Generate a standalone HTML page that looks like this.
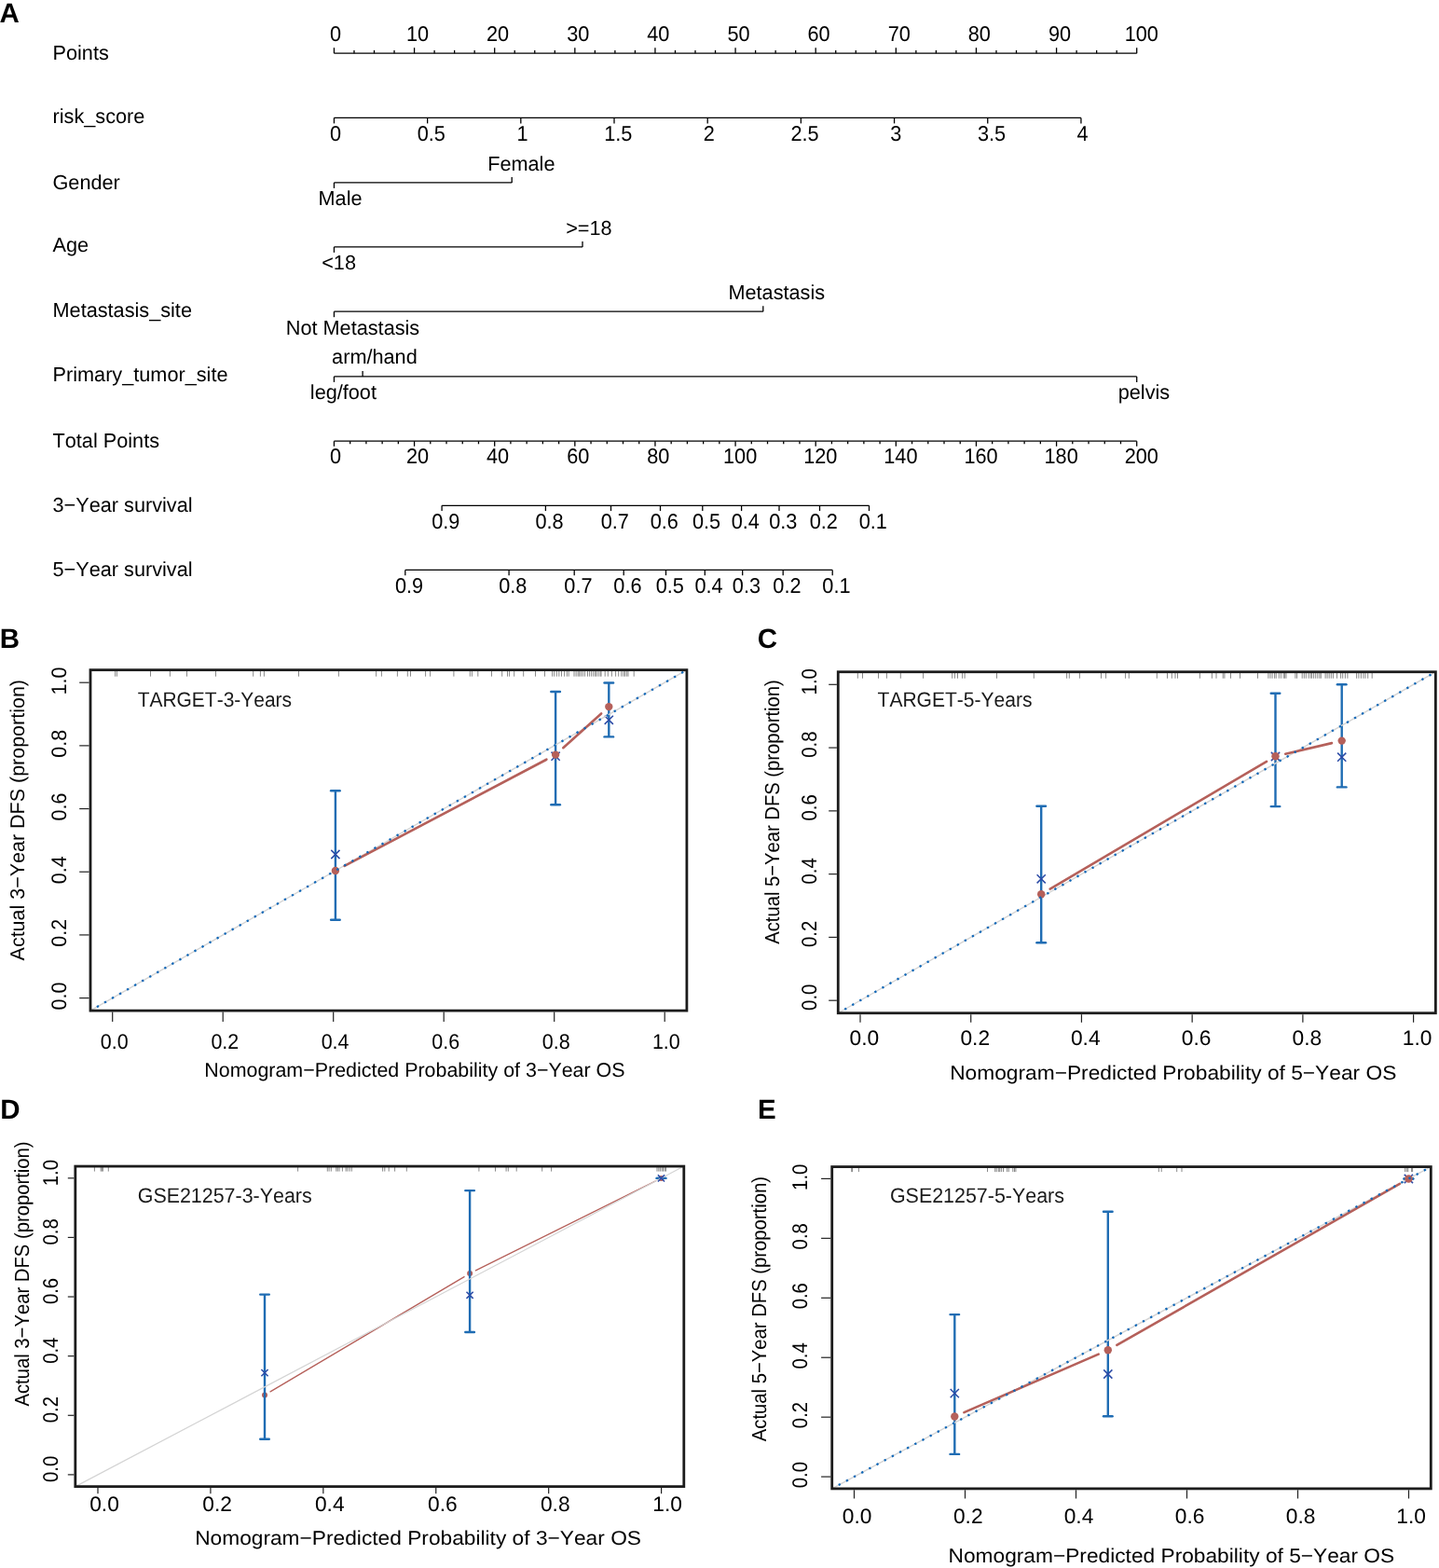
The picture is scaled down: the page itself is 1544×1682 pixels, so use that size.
<!DOCTYPE html>
<html><head><meta charset="utf-8"><title>Nomogram and calibration curves</title><style>html,body{margin:0;padding:0;background:#fff;}svg{display:block;}text{text-rendering:geometricPrecision;font-kerning:none;font-feature-settings:"kern" 0,"liga" 0;font-variant-ligatures:none;}</style></head>
<body>
<svg width="1544" height="1682" viewBox="0 0 1544 1682" font-family="'Liberation Sans', Arial, Helvetica, sans-serif">
<rect width="1544" height="1682" fill="#fff"/>
<text x="-0.43" y="24.3" font-size="29.5" font-weight="bold" fill="#000">A</text>
<text x="56.5" y="64" font-size="21.7" fill="#000">Points</text>
<text x="56.5" y="131.9" font-size="21.7" fill="#000">risk_score</text>
<text x="56.5" y="202.6" font-size="21.7" fill="#000">Gender</text>
<text x="56.5" y="269.8" font-size="21.7" fill="#000">Age</text>
<text x="56.5" y="340.1" font-size="21.7" fill="#000">Metastasis_site</text>
<text x="56.5" y="408.6" font-size="21.7" fill="#000">Primary_tumor_site</text>
<text x="56.5" y="479.8" font-size="21.7" fill="#000">Total Points</text>
<text x="56.5" y="549" font-size="21.7" fill="#000">3−Year survival</text>
<text x="56.5" y="618.1" font-size="21.7" fill="#000">5−Year survival</text>
<line x1="358.45" y1="57.2" x2="1219.7" y2="57.2" stroke="#000" stroke-width="1.3"/>
<line x1="358.45" y1="57.2" x2="358.45" y2="51.2" stroke="#000" stroke-width="1.3"/>
<line x1="379.98" y1="57.2" x2="379.98" y2="53.9" stroke="#000" stroke-width="1.3"/>
<line x1="401.51" y1="57.2" x2="401.51" y2="53.9" stroke="#000" stroke-width="1.3"/>
<line x1="423.04" y1="57.2" x2="423.04" y2="53.9" stroke="#000" stroke-width="1.3"/>
<line x1="444.57" y1="57.2" x2="444.57" y2="51.2" stroke="#000" stroke-width="1.3"/>
<line x1="466.11" y1="57.2" x2="466.11" y2="53.9" stroke="#000" stroke-width="1.3"/>
<line x1="487.64" y1="57.2" x2="487.64" y2="53.9" stroke="#000" stroke-width="1.3"/>
<line x1="509.17" y1="57.2" x2="509.17" y2="53.9" stroke="#000" stroke-width="1.3"/>
<line x1="530.7" y1="57.2" x2="530.7" y2="51.2" stroke="#000" stroke-width="1.3"/>
<line x1="552.23" y1="57.2" x2="552.23" y2="53.9" stroke="#000" stroke-width="1.3"/>
<line x1="573.76" y1="57.2" x2="573.76" y2="53.9" stroke="#000" stroke-width="1.3"/>
<line x1="595.29" y1="57.2" x2="595.29" y2="53.9" stroke="#000" stroke-width="1.3"/>
<line x1="616.83" y1="57.2" x2="616.83" y2="51.2" stroke="#000" stroke-width="1.3"/>
<line x1="638.36" y1="57.2" x2="638.36" y2="53.9" stroke="#000" stroke-width="1.3"/>
<line x1="659.89" y1="57.2" x2="659.89" y2="53.9" stroke="#000" stroke-width="1.3"/>
<line x1="681.42" y1="57.2" x2="681.42" y2="53.9" stroke="#000" stroke-width="1.3"/>
<line x1="702.95" y1="57.2" x2="702.95" y2="51.2" stroke="#000" stroke-width="1.3"/>
<line x1="724.48" y1="57.2" x2="724.48" y2="53.9" stroke="#000" stroke-width="1.3"/>
<line x1="746.01" y1="57.2" x2="746.01" y2="53.9" stroke="#000" stroke-width="1.3"/>
<line x1="767.54" y1="57.2" x2="767.54" y2="53.9" stroke="#000" stroke-width="1.3"/>
<line x1="789.08" y1="57.2" x2="789.08" y2="51.2" stroke="#000" stroke-width="1.3"/>
<line x1="810.61" y1="57.2" x2="810.61" y2="53.9" stroke="#000" stroke-width="1.3"/>
<line x1="832.14" y1="57.2" x2="832.14" y2="53.9" stroke="#000" stroke-width="1.3"/>
<line x1="853.67" y1="57.2" x2="853.67" y2="53.9" stroke="#000" stroke-width="1.3"/>
<line x1="875.2" y1="57.2" x2="875.2" y2="51.2" stroke="#000" stroke-width="1.3"/>
<line x1="896.73" y1="57.2" x2="896.73" y2="53.9" stroke="#000" stroke-width="1.3"/>
<line x1="918.26" y1="57.2" x2="918.26" y2="53.9" stroke="#000" stroke-width="1.3"/>
<line x1="939.79" y1="57.2" x2="939.79" y2="53.9" stroke="#000" stroke-width="1.3"/>
<line x1="961.33" y1="57.2" x2="961.33" y2="51.2" stroke="#000" stroke-width="1.3"/>
<line x1="982.86" y1="57.2" x2="982.86" y2="53.9" stroke="#000" stroke-width="1.3"/>
<line x1="1004.39" y1="57.2" x2="1004.39" y2="53.9" stroke="#000" stroke-width="1.3"/>
<line x1="1025.92" y1="57.2" x2="1025.92" y2="53.9" stroke="#000" stroke-width="1.3"/>
<line x1="1047.45" y1="57.2" x2="1047.45" y2="51.2" stroke="#000" stroke-width="1.3"/>
<line x1="1068.98" y1="57.2" x2="1068.98" y2="53.9" stroke="#000" stroke-width="1.3"/>
<line x1="1090.51" y1="57.2" x2="1090.51" y2="53.9" stroke="#000" stroke-width="1.3"/>
<line x1="1112.04" y1="57.2" x2="1112.04" y2="53.9" stroke="#000" stroke-width="1.3"/>
<line x1="1133.58" y1="57.2" x2="1133.58" y2="51.2" stroke="#000" stroke-width="1.3"/>
<line x1="1155.11" y1="57.2" x2="1155.11" y2="53.9" stroke="#000" stroke-width="1.3"/>
<line x1="1176.64" y1="57.2" x2="1176.64" y2="53.9" stroke="#000" stroke-width="1.3"/>
<line x1="1198.17" y1="57.2" x2="1198.17" y2="53.9" stroke="#000" stroke-width="1.3"/>
<line x1="1219.7" y1="57.2" x2="1219.7" y2="51.2" stroke="#000" stroke-width="1.3"/>
<text transform="translate(354.11 44.3) scale(0.9479 1)" font-size="22.89" fill="#000">0</text>
<text transform="translate(435.89 44.3) scale(0.9479 1)" font-size="22.89" fill="#000">10</text>
<text transform="translate(522.01 44.3) scale(0.9479 1)" font-size="22.89" fill="#000">20</text>
<text transform="translate(608.14 44.3) scale(0.9479 1)" font-size="22.89" fill="#000">30</text>
<text transform="translate(694.26 44.3) scale(0.9479 1)" font-size="22.89" fill="#000">40</text>
<text transform="translate(780.39 44.3) scale(0.9479 1)" font-size="22.89" fill="#000">50</text>
<text transform="translate(866.51 44.3) scale(0.9479 1)" font-size="22.89" fill="#000">60</text>
<text transform="translate(952.64 44.3) scale(0.9479 1)" font-size="22.89" fill="#000">70</text>
<text transform="translate(1038.76 44.3) scale(0.9479 1)" font-size="22.89" fill="#000">80</text>
<text transform="translate(1124.89 44.3) scale(0.9479 1)" font-size="22.89" fill="#000">90</text>
<text transform="translate(1206.67 44.3) scale(0.9479 1)" font-size="22.89" fill="#000">100</text>
<line x1="358.45" y1="126.4" x2="1159.93" y2="126.4" stroke="#000" stroke-width="1.3"/>
<line x1="358.45" y1="126.4" x2="358.45" y2="132.4" stroke="#000" stroke-width="1.3"/>
<text transform="translate(354.11 150.8) scale(0.9479 1)" font-size="22.89" fill="#000">0</text>
<line x1="458.63" y1="126.4" x2="458.63" y2="132.4" stroke="#000" stroke-width="1.3"/>
<text transform="translate(447.78 150.8) scale(0.9479 1)" font-size="22.89" fill="#000">0.5</text>
<line x1="558.82" y1="126.4" x2="558.82" y2="132.4" stroke="#000" stroke-width="1.3"/>
<text transform="translate(554.48 150.8) scale(0.9479 1)" font-size="22.89" fill="#000">1</text>
<line x1="659" y1="126.4" x2="659" y2="132.4" stroke="#000" stroke-width="1.3"/>
<text transform="translate(648.15 150.8) scale(0.9479 1)" font-size="22.89" fill="#000">1.5</text>
<line x1="759.19" y1="126.4" x2="759.19" y2="132.4" stroke="#000" stroke-width="1.3"/>
<text transform="translate(754.85 150.8) scale(0.9479 1)" font-size="22.89" fill="#000">2</text>
<line x1="859.38" y1="126.4" x2="859.38" y2="132.4" stroke="#000" stroke-width="1.3"/>
<text transform="translate(848.52 150.8) scale(0.9479 1)" font-size="22.89" fill="#000">2.5</text>
<line x1="959.56" y1="126.4" x2="959.56" y2="132.4" stroke="#000" stroke-width="1.3"/>
<text transform="translate(955.22 150.8) scale(0.9479 1)" font-size="22.89" fill="#000">3</text>
<line x1="1059.75" y1="126.4" x2="1059.75" y2="132.4" stroke="#000" stroke-width="1.3"/>
<text transform="translate(1048.89 150.8) scale(0.9479 1)" font-size="22.89" fill="#000">3.5</text>
<line x1="1159.93" y1="126.4" x2="1159.93" y2="132.4" stroke="#000" stroke-width="1.3"/>
<text transform="translate(1155.59 150.8) scale(0.9479 1)" font-size="22.89" fill="#000">4</text>
<line x1="358.45" y1="195.9" x2="549.2" y2="195.9" stroke="#000" stroke-width="1.3"/>
<line x1="549.2" y1="195.9" x2="549.2" y2="189.9" stroke="#000" stroke-width="1.3"/>
<line x1="358.45" y1="195.9" x2="358.45" y2="201.9" stroke="#000" stroke-width="1.3"/>
<text x="523.15" y="182.6" font-size="21.7" fill="#000">Female</text>
<text x="341.52" y="220.2" font-size="21.7" fill="#000">Male</text>
<line x1="358.45" y1="264.9" x2="625" y2="264.9" stroke="#000" stroke-width="1.3"/>
<line x1="625" y1="264.9" x2="625" y2="258.9" stroke="#000" stroke-width="1.3"/>
<line x1="358.45" y1="264.9" x2="358.45" y2="270.9" stroke="#000" stroke-width="1.3"/>
<text x="607.19" y="251.6" font-size="21.7" fill="#000">&gt;=18</text>
<text x="345.2" y="288.9" font-size="21.7" fill="#000">&lt;18</text>
<line x1="358.45" y1="334.2" x2="818.8" y2="334.2" stroke="#000" stroke-width="1.3"/>
<line x1="818.8" y1="334.2" x2="818.8" y2="328.2" stroke="#000" stroke-width="1.3"/>
<line x1="358.45" y1="334.2" x2="358.45" y2="340.2" stroke="#000" stroke-width="1.3"/>
<text x="781.46" y="320.6" font-size="21.7" fill="#000">Metastasis</text>
<text x="306.79" y="358.9" font-size="21.7" fill="#000">Not Metastasis</text>
<line x1="358.45" y1="403.9" x2="1219.7" y2="403.9" stroke="#000" stroke-width="1.3"/>
<line x1="389.1" y1="403.9" x2="389.1" y2="397.9" stroke="#000" stroke-width="1.3"/>
<line x1="358.45" y1="403.9" x2="358.45" y2="409.9" stroke="#000" stroke-width="1.3"/>
<line x1="1219.7" y1="403.9" x2="1219.7" y2="409.9" stroke="#000" stroke-width="1.3"/>
<text x="356.1" y="390.4" font-size="21.7" fill="#000">arm/hand</text>
<text x="332.82" y="428.2" font-size="21.7" fill="#000">leg/foot</text>
<text x="1199.73" y="428.2" font-size="21.7" fill="#000">pelvis</text>
<line x1="358.45" y1="473.2" x2="1219.7" y2="473.2" stroke="#000" stroke-width="1.3"/>
<line x1="358.45" y1="473.2" x2="358.45" y2="478.8" stroke="#000" stroke-width="1.3"/>
<line x1="375.68" y1="473.2" x2="375.68" y2="476.3" stroke="#000" stroke-width="1.3"/>
<line x1="392.9" y1="473.2" x2="392.9" y2="476.3" stroke="#000" stroke-width="1.3"/>
<line x1="410.12" y1="473.2" x2="410.12" y2="476.3" stroke="#000" stroke-width="1.3"/>
<line x1="427.35" y1="473.2" x2="427.35" y2="476.3" stroke="#000" stroke-width="1.3"/>
<line x1="444.57" y1="473.2" x2="444.57" y2="478.8" stroke="#000" stroke-width="1.3"/>
<line x1="461.8" y1="473.2" x2="461.8" y2="476.3" stroke="#000" stroke-width="1.3"/>
<line x1="479.02" y1="473.2" x2="479.02" y2="476.3" stroke="#000" stroke-width="1.3"/>
<line x1="496.25" y1="473.2" x2="496.25" y2="476.3" stroke="#000" stroke-width="1.3"/>
<line x1="513.48" y1="473.2" x2="513.48" y2="476.3" stroke="#000" stroke-width="1.3"/>
<line x1="530.7" y1="473.2" x2="530.7" y2="478.8" stroke="#000" stroke-width="1.3"/>
<line x1="547.92" y1="473.2" x2="547.92" y2="476.3" stroke="#000" stroke-width="1.3"/>
<line x1="565.15" y1="473.2" x2="565.15" y2="476.3" stroke="#000" stroke-width="1.3"/>
<line x1="582.38" y1="473.2" x2="582.38" y2="476.3" stroke="#000" stroke-width="1.3"/>
<line x1="599.6" y1="473.2" x2="599.6" y2="476.3" stroke="#000" stroke-width="1.3"/>
<line x1="616.83" y1="473.2" x2="616.83" y2="478.8" stroke="#000" stroke-width="1.3"/>
<line x1="634.05" y1="473.2" x2="634.05" y2="476.3" stroke="#000" stroke-width="1.3"/>
<line x1="651.28" y1="473.2" x2="651.28" y2="476.3" stroke="#000" stroke-width="1.3"/>
<line x1="668.5" y1="473.2" x2="668.5" y2="476.3" stroke="#000" stroke-width="1.3"/>
<line x1="685.73" y1="473.2" x2="685.73" y2="476.3" stroke="#000" stroke-width="1.3"/>
<line x1="702.95" y1="473.2" x2="702.95" y2="478.8" stroke="#000" stroke-width="1.3"/>
<line x1="720.17" y1="473.2" x2="720.17" y2="476.3" stroke="#000" stroke-width="1.3"/>
<line x1="737.4" y1="473.2" x2="737.4" y2="476.3" stroke="#000" stroke-width="1.3"/>
<line x1="754.62" y1="473.2" x2="754.62" y2="476.3" stroke="#000" stroke-width="1.3"/>
<line x1="771.85" y1="473.2" x2="771.85" y2="476.3" stroke="#000" stroke-width="1.3"/>
<line x1="789.08" y1="473.2" x2="789.08" y2="478.8" stroke="#000" stroke-width="1.3"/>
<line x1="806.3" y1="473.2" x2="806.3" y2="476.3" stroke="#000" stroke-width="1.3"/>
<line x1="823.53" y1="473.2" x2="823.53" y2="476.3" stroke="#000" stroke-width="1.3"/>
<line x1="840.75" y1="473.2" x2="840.75" y2="476.3" stroke="#000" stroke-width="1.3"/>
<line x1="857.98" y1="473.2" x2="857.98" y2="476.3" stroke="#000" stroke-width="1.3"/>
<line x1="875.2" y1="473.2" x2="875.2" y2="478.8" stroke="#000" stroke-width="1.3"/>
<line x1="892.42" y1="473.2" x2="892.42" y2="476.3" stroke="#000" stroke-width="1.3"/>
<line x1="909.65" y1="473.2" x2="909.65" y2="476.3" stroke="#000" stroke-width="1.3"/>
<line x1="926.88" y1="473.2" x2="926.88" y2="476.3" stroke="#000" stroke-width="1.3"/>
<line x1="944.1" y1="473.2" x2="944.1" y2="476.3" stroke="#000" stroke-width="1.3"/>
<line x1="961.33" y1="473.2" x2="961.33" y2="478.8" stroke="#000" stroke-width="1.3"/>
<line x1="978.55" y1="473.2" x2="978.55" y2="476.3" stroke="#000" stroke-width="1.3"/>
<line x1="995.78" y1="473.2" x2="995.78" y2="476.3" stroke="#000" stroke-width="1.3"/>
<line x1="1013" y1="473.2" x2="1013" y2="476.3" stroke="#000" stroke-width="1.3"/>
<line x1="1030.23" y1="473.2" x2="1030.23" y2="476.3" stroke="#000" stroke-width="1.3"/>
<line x1="1047.45" y1="473.2" x2="1047.45" y2="478.8" stroke="#000" stroke-width="1.3"/>
<line x1="1064.67" y1="473.2" x2="1064.67" y2="476.3" stroke="#000" stroke-width="1.3"/>
<line x1="1081.9" y1="473.2" x2="1081.9" y2="476.3" stroke="#000" stroke-width="1.3"/>
<line x1="1099.12" y1="473.2" x2="1099.12" y2="476.3" stroke="#000" stroke-width="1.3"/>
<line x1="1116.35" y1="473.2" x2="1116.35" y2="476.3" stroke="#000" stroke-width="1.3"/>
<line x1="1133.58" y1="473.2" x2="1133.58" y2="478.8" stroke="#000" stroke-width="1.3"/>
<line x1="1150.8" y1="473.2" x2="1150.8" y2="476.3" stroke="#000" stroke-width="1.3"/>
<line x1="1168.03" y1="473.2" x2="1168.03" y2="476.3" stroke="#000" stroke-width="1.3"/>
<line x1="1185.25" y1="473.2" x2="1185.25" y2="476.3" stroke="#000" stroke-width="1.3"/>
<line x1="1202.48" y1="473.2" x2="1202.48" y2="476.3" stroke="#000" stroke-width="1.3"/>
<line x1="1219.7" y1="473.2" x2="1219.7" y2="478.8" stroke="#000" stroke-width="1.3"/>
<text transform="translate(354.11 497.4) scale(0.9479 1)" font-size="22.89" fill="#000">0</text>
<text transform="translate(435.89 497.4) scale(0.9479 1)" font-size="22.89" fill="#000">20</text>
<text transform="translate(522.01 497.4) scale(0.9479 1)" font-size="22.89" fill="#000">40</text>
<text transform="translate(608.14 497.4) scale(0.9479 1)" font-size="22.89" fill="#000">60</text>
<text transform="translate(694.26 497.4) scale(0.9479 1)" font-size="22.89" fill="#000">80</text>
<text transform="translate(776.04 497.4) scale(0.9479 1)" font-size="22.89" fill="#000">100</text>
<text transform="translate(862.17 497.4) scale(0.9479 1)" font-size="22.89" fill="#000">120</text>
<text transform="translate(948.29 497.4) scale(0.9479 1)" font-size="22.89" fill="#000">140</text>
<text transform="translate(1034.42 497.4) scale(0.9479 1)" font-size="22.89" fill="#000">160</text>
<text transform="translate(1120.54 497.4) scale(0.9479 1)" font-size="22.89" fill="#000">180</text>
<text transform="translate(1206.67 497.4) scale(0.9479 1)" font-size="22.89" fill="#000">200</text>
<line x1="474.1" y1="542.3" x2="932.5" y2="542.3" stroke="#000" stroke-width="1.3"/>
<line x1="474.1" y1="542.3" x2="474.1" y2="548.1" stroke="#000" stroke-width="1.3"/>
<text transform="translate(463.24 567.2) scale(0.9479 1)" font-size="22.89" fill="#000">0.9</text>
<line x1="585.4" y1="542.3" x2="585.4" y2="548.1" stroke="#000" stroke-width="1.3"/>
<text transform="translate(574.54 567.2) scale(0.9479 1)" font-size="22.89" fill="#000">0.8</text>
<line x1="655.5" y1="542.3" x2="655.5" y2="548.1" stroke="#000" stroke-width="1.3"/>
<text transform="translate(644.64 567.2) scale(0.9479 1)" font-size="22.89" fill="#000">0.7</text>
<line x1="708.5" y1="542.3" x2="708.5" y2="548.1" stroke="#000" stroke-width="1.3"/>
<text transform="translate(697.64 567.2) scale(0.9479 1)" font-size="22.89" fill="#000">0.6</text>
<line x1="753.8" y1="542.3" x2="753.8" y2="548.1" stroke="#000" stroke-width="1.3"/>
<text transform="translate(742.94 567.2) scale(0.9479 1)" font-size="22.89" fill="#000">0.5</text>
<line x1="795.6" y1="542.3" x2="795.6" y2="548.1" stroke="#000" stroke-width="1.3"/>
<text transform="translate(784.74 567.2) scale(0.9479 1)" font-size="22.89" fill="#000">0.4</text>
<line x1="836" y1="542.3" x2="836" y2="548.1" stroke="#000" stroke-width="1.3"/>
<text transform="translate(825.14 567.2) scale(0.9479 1)" font-size="22.89" fill="#000">0.3</text>
<line x1="879.5" y1="542.3" x2="879.5" y2="548.1" stroke="#000" stroke-width="1.3"/>
<text transform="translate(868.64 567.2) scale(0.9479 1)" font-size="22.89" fill="#000">0.2</text>
<line x1="932.5" y1="542.3" x2="932.5" y2="548.1" stroke="#000" stroke-width="1.3"/>
<text transform="translate(921.64 567.2) scale(0.9479 1)" font-size="22.89" fill="#000">0.1</text>
<line x1="434.8" y1="611.4" x2="893.2" y2="611.4" stroke="#000" stroke-width="1.3"/>
<line x1="434.8" y1="611.4" x2="434.8" y2="617.2" stroke="#000" stroke-width="1.3"/>
<text transform="translate(423.94 636.1) scale(0.9479 1)" font-size="22.89" fill="#000">0.9</text>
<line x1="546.1" y1="611.4" x2="546.1" y2="617.2" stroke="#000" stroke-width="1.3"/>
<text transform="translate(535.24 636.1) scale(0.9479 1)" font-size="22.89" fill="#000">0.8</text>
<line x1="616.2" y1="611.4" x2="616.2" y2="617.2" stroke="#000" stroke-width="1.3"/>
<text transform="translate(605.34 636.1) scale(0.9479 1)" font-size="22.89" fill="#000">0.7</text>
<line x1="669.2" y1="611.4" x2="669.2" y2="617.2" stroke="#000" stroke-width="1.3"/>
<text transform="translate(658.34 636.1) scale(0.9479 1)" font-size="22.89" fill="#000">0.6</text>
<line x1="714.5" y1="611.4" x2="714.5" y2="617.2" stroke="#000" stroke-width="1.3"/>
<text transform="translate(703.64 636.1) scale(0.9479 1)" font-size="22.89" fill="#000">0.5</text>
<line x1="756.3" y1="611.4" x2="756.3" y2="617.2" stroke="#000" stroke-width="1.3"/>
<text transform="translate(745.44 636.1) scale(0.9479 1)" font-size="22.89" fill="#000">0.4</text>
<line x1="796.7" y1="611.4" x2="796.7" y2="617.2" stroke="#000" stroke-width="1.3"/>
<text transform="translate(785.84 636.1) scale(0.9479 1)" font-size="22.89" fill="#000">0.3</text>
<line x1="840.2" y1="611.4" x2="840.2" y2="617.2" stroke="#000" stroke-width="1.3"/>
<text transform="translate(829.34 636.1) scale(0.9479 1)" font-size="22.89" fill="#000">0.2</text>
<line x1="893.2" y1="611.4" x2="893.2" y2="617.2" stroke="#000" stroke-width="1.3"/>
<text transform="translate(882.34 636.1) scale(0.9479 1)" font-size="22.89" fill="#000">0.1</text>
<line x1="123.6" y1="718.66" x2="123.6" y2="725.66" stroke="#6a6a6a" stroke-width="0.8"/>
<line x1="125.4" y1="718.66" x2="125.4" y2="725.66" stroke="#6a6a6a" stroke-width="0.8"/>
<line x1="161.5" y1="718.66" x2="161.5" y2="725.66" stroke="#6a6a6a" stroke-width="0.8"/>
<line x1="182.4" y1="718.66" x2="182.4" y2="725.66" stroke="#6a6a6a" stroke-width="0.8"/>
<line x1="200.5" y1="718.66" x2="200.5" y2="725.66" stroke="#6a6a6a" stroke-width="0.8"/>
<line x1="231.5" y1="718.66" x2="231.5" y2="725.66" stroke="#6a6a6a" stroke-width="0.8"/>
<line x1="271.7" y1="718.66" x2="271.7" y2="725.66" stroke="#6a6a6a" stroke-width="0.8"/>
<line x1="279.4" y1="718.66" x2="279.4" y2="725.66" stroke="#6a6a6a" stroke-width="0.8"/>
<line x1="283.4" y1="718.66" x2="283.4" y2="725.66" stroke="#6a6a6a" stroke-width="0.8"/>
<line x1="320.5" y1="718.66" x2="320.5" y2="725.66" stroke="#6a6a6a" stroke-width="0.8"/>
<line x1="363.4" y1="718.66" x2="363.4" y2="725.66" stroke="#6a6a6a" stroke-width="0.8"/>
<line x1="403.6" y1="718.66" x2="403.6" y2="725.66" stroke="#6a6a6a" stroke-width="0.8"/>
<line x1="409.4" y1="718.66" x2="409.4" y2="725.66" stroke="#6a6a6a" stroke-width="0.8"/>
<line x1="426.4" y1="718.66" x2="426.4" y2="725.66" stroke="#6a6a6a" stroke-width="0.8"/>
<line x1="437.3" y1="718.66" x2="437.3" y2="725.66" stroke="#6a6a6a" stroke-width="0.8"/>
<line x1="440.5" y1="718.66" x2="440.5" y2="725.66" stroke="#6a6a6a" stroke-width="0.8"/>
<line x1="456.6" y1="718.66" x2="456.6" y2="725.66" stroke="#6a6a6a" stroke-width="0.8"/>
<line x1="461.6" y1="718.66" x2="461.6" y2="725.66" stroke="#6a6a6a" stroke-width="0.8"/>
<line x1="486.9" y1="718.66" x2="486.9" y2="725.66" stroke="#6a6a6a" stroke-width="0.8"/>
<line x1="504.3" y1="718.66" x2="504.3" y2="725.66" stroke="#6a6a6a" stroke-width="0.8"/>
<line x1="506.4" y1="718.66" x2="506.4" y2="725.66" stroke="#6a6a6a" stroke-width="0.8"/>
<line x1="512.8" y1="718.66" x2="512.8" y2="725.66" stroke="#6a6a6a" stroke-width="0.8"/>
<line x1="527.5" y1="718.66" x2="527.5" y2="725.66" stroke="#6a6a6a" stroke-width="0.8"/>
<line x1="538.7" y1="718.66" x2="538.7" y2="725.66" stroke="#6a6a6a" stroke-width="0.8"/>
<line x1="544.5" y1="718.66" x2="544.5" y2="725.66" stroke="#6a6a6a" stroke-width="0.8"/>
<line x1="546.6" y1="718.66" x2="546.6" y2="725.66" stroke="#6a6a6a" stroke-width="0.8"/>
<line x1="551.7" y1="718.66" x2="551.7" y2="725.66" stroke="#6a6a6a" stroke-width="0.8"/>
<line x1="561.7" y1="718.66" x2="561.7" y2="725.66" stroke="#6a6a6a" stroke-width="0.8"/>
<line x1="574.5" y1="718.66" x2="574.5" y2="725.66" stroke="#6a6a6a" stroke-width="0.8"/>
<line x1="584.5" y1="718.66" x2="584.5" y2="725.66" stroke="#6a6a6a" stroke-width="0.8"/>
<line x1="592.6" y1="718.66" x2="592.6" y2="725.66" stroke="#6a6a6a" stroke-width="0.8"/>
<line x1="594.7" y1="718.66" x2="594.7" y2="725.66" stroke="#6a6a6a" stroke-width="0.8"/>
<line x1="597.3" y1="718.66" x2="597.3" y2="725.66" stroke="#6a6a6a" stroke-width="0.8"/>
<line x1="599.8" y1="718.66" x2="599.8" y2="725.66" stroke="#6a6a6a" stroke-width="0.8"/>
<line x1="602.5" y1="718.66" x2="602.5" y2="725.66" stroke="#6a6a6a" stroke-width="0.8"/>
<line x1="605.6" y1="718.66" x2="605.6" y2="725.66" stroke="#6a6a6a" stroke-width="0.8"/>
<line x1="608.3" y1="718.66" x2="608.3" y2="725.66" stroke="#6a6a6a" stroke-width="0.8"/>
<line x1="610.2" y1="718.66" x2="610.2" y2="725.66" stroke="#6a6a6a" stroke-width="0.8"/>
<line x1="616" y1="718.66" x2="616" y2="725.66" stroke="#6a6a6a" stroke-width="0.8"/>
<line x1="618.1" y1="718.66" x2="618.1" y2="725.66" stroke="#6a6a6a" stroke-width="0.8"/>
<line x1="620.1" y1="718.66" x2="620.1" y2="725.66" stroke="#6a6a6a" stroke-width="0.8"/>
<line x1="621.6" y1="718.66" x2="621.6" y2="725.66" stroke="#6a6a6a" stroke-width="0.8"/>
<line x1="623.3" y1="718.66" x2="623.3" y2="725.66" stroke="#6a6a6a" stroke-width="0.8"/>
<line x1="625.3" y1="718.66" x2="625.3" y2="725.66" stroke="#6a6a6a" stroke-width="0.8"/>
<line x1="627.4" y1="718.66" x2="627.4" y2="725.66" stroke="#6a6a6a" stroke-width="0.8"/>
<line x1="630.5" y1="718.66" x2="630.5" y2="725.66" stroke="#6a6a6a" stroke-width="0.8"/>
<line x1="632.6" y1="718.66" x2="632.6" y2="725.66" stroke="#6a6a6a" stroke-width="0.8"/>
<line x1="634.7" y1="718.66" x2="634.7" y2="725.66" stroke="#6a6a6a" stroke-width="0.8"/>
<line x1="636.8" y1="718.66" x2="636.8" y2="725.66" stroke="#6a6a6a" stroke-width="0.8"/>
<line x1="638.8" y1="718.66" x2="638.8" y2="725.66" stroke="#6a6a6a" stroke-width="0.8"/>
<line x1="639.9" y1="718.66" x2="639.9" y2="725.66" stroke="#6a6a6a" stroke-width="0.8"/>
<line x1="642" y1="718.66" x2="642" y2="725.66" stroke="#6a6a6a" stroke-width="0.8"/>
<line x1="644.1" y1="718.66" x2="644.1" y2="725.66" stroke="#6a6a6a" stroke-width="0.8"/>
<line x1="645" y1="718.66" x2="645" y2="725.66" stroke="#6a6a6a" stroke-width="0.8"/>
<line x1="649.2" y1="718.66" x2="649.2" y2="725.66" stroke="#6a6a6a" stroke-width="0.8"/>
<line x1="652.3" y1="718.66" x2="652.3" y2="725.66" stroke="#6a6a6a" stroke-width="0.8"/>
<line x1="656.4" y1="718.66" x2="656.4" y2="725.66" stroke="#6a6a6a" stroke-width="0.8"/>
<line x1="660.6" y1="718.66" x2="660.6" y2="725.66" stroke="#6a6a6a" stroke-width="0.8"/>
<line x1="663.7" y1="718.66" x2="663.7" y2="725.66" stroke="#6a6a6a" stroke-width="0.8"/>
<line x1="666.8" y1="718.66" x2="666.8" y2="725.66" stroke="#6a6a6a" stroke-width="0.8"/>
<line x1="668.9" y1="718.66" x2="668.9" y2="725.66" stroke="#6a6a6a" stroke-width="0.8"/>
<line x1="670.5" y1="718.66" x2="670.5" y2="725.66" stroke="#6a6a6a" stroke-width="0.8"/>
<line x1="672.4" y1="718.66" x2="672.4" y2="725.66" stroke="#6a6a6a" stroke-width="0.8"/>
<line x1="674" y1="718.66" x2="674" y2="725.66" stroke="#6a6a6a" stroke-width="0.8"/>
<line x1="680.2" y1="718.66" x2="680.2" y2="725.66" stroke="#6a6a6a" stroke-width="0.8"/>
<line x1="359.9" y1="986.8" x2="359.9" y2="848.2" stroke="#1f6cb3" stroke-width="2.4"/>
<line x1="355.1" y1="986.8" x2="364.7" y2="986.8" stroke="#1f6cb3" stroke-width="2.4" stroke-linecap="round"/>
<line x1="355.1" y1="848.2" x2="364.7" y2="848.2" stroke="#1f6cb3" stroke-width="2.4" stroke-linecap="round"/>
<line x1="596.1" y1="863.2" x2="596.1" y2="742" stroke="#1f6cb3" stroke-width="2.4"/>
<line x1="591.3" y1="863.2" x2="600.9" y2="863.2" stroke="#1f6cb3" stroke-width="2.4" stroke-linecap="round"/>
<line x1="591.3" y1="742" x2="600.9" y2="742" stroke="#1f6cb3" stroke-width="2.4" stroke-linecap="round"/>
<line x1="653.3" y1="790.4" x2="653.3" y2="732.5" stroke="#1f6cb3" stroke-width="2.4"/>
<line x1="648.5" y1="790.4" x2="658.1" y2="790.4" stroke="#1f6cb3" stroke-width="2.4" stroke-linecap="round"/>
<line x1="648.5" y1="732.5" x2="658.1" y2="732.5" stroke="#1f6cb3" stroke-width="2.4" stroke-linecap="round"/>
<path d="M355.3 911.9L364.5 921.1M355.3 921.1L364.5 911.9" stroke="#2b4aa6" stroke-width="1.5" fill="none"/>
<path d="M591.5 806.6L600.7 815.8M591.5 815.8L600.7 806.6" stroke="#2b4aa6" stroke-width="1.5" fill="none"/>
<path d="M648.7 767.7L657.9 776.9M648.7 776.9L657.9 767.7" stroke="#2b4aa6" stroke-width="1.5" fill="none"/>
<line x1="97" y1="1084.14" x2="736.9" y2="718.66" stroke="#d4d4d4" stroke-width="1.4"/>
<line x1="369.63" y1="928.87" x2="586.37" y2="814.73" stroke="#b5605a" stroke-width="2.6" stroke-linecap="round"/>
<line x1="604.27" y1="802.24" x2="645.13" y2="765.46" stroke="#b5605a" stroke-width="2.6" stroke-linecap="round"/>
<circle cx="359.9" cy="934" r="4.2" fill="#b5605a"/>
<circle cx="596.1" cy="809.6" r="4.2" fill="#b5605a"/>
<circle cx="653.3" cy="758.1" r="4.2" fill="#b5605a"/>
<line x1="97" y1="1084.14" x2="736.9" y2="718.66" stroke="#1168b8" stroke-width="2.3" stroke-dasharray="2.3 6.96" stroke-dashoffset="-8"/>
<rect x="97" y="718.66" width="639.9" height="365.47" fill="none" stroke="#1c1c1c" stroke-width="2.8"/>
<line x1="120.7" y1="1085.54" x2="120.7" y2="1096" stroke="#222" stroke-width="1.2"/>
<line x1="85.2" y1="1070.6" x2="95.6" y2="1070.6" stroke="#222" stroke-width="1.2"/>
<line x1="239.2" y1="1085.54" x2="239.2" y2="1096" stroke="#222" stroke-width="1.2"/>
<line x1="85.2" y1="1002.92" x2="95.6" y2="1002.92" stroke="#222" stroke-width="1.2"/>
<line x1="357.7" y1="1085.54" x2="357.7" y2="1096" stroke="#222" stroke-width="1.2"/>
<line x1="85.2" y1="935.24" x2="95.6" y2="935.24" stroke="#222" stroke-width="1.2"/>
<line x1="476.2" y1="1085.54" x2="476.2" y2="1096" stroke="#222" stroke-width="1.2"/>
<line x1="85.2" y1="867.56" x2="95.6" y2="867.56" stroke="#222" stroke-width="1.2"/>
<line x1="594.7" y1="1085.54" x2="594.7" y2="1096" stroke="#222" stroke-width="1.2"/>
<line x1="85.2" y1="799.88" x2="95.6" y2="799.88" stroke="#222" stroke-width="1.2"/>
<line x1="713.2" y1="1085.54" x2="713.2" y2="1096" stroke="#222" stroke-width="1.2"/>
<line x1="85.2" y1="732.2" x2="95.6" y2="732.2" stroke="#222" stroke-width="1.2"/>
<text transform="translate(107.78 1124.5) scale(0.9479 1)" font-size="22.65" fill="#000">0.0</text>
<text transform="translate(226.4 1124.5) scale(0.9479 1)" font-size="22.65" fill="#000">0.2</text>
<text transform="translate(344.67 1124.5) scale(0.9479 1)" font-size="22.65" fill="#000">0.4</text>
<text transform="translate(463.33 1124.5) scale(0.9479 1)" font-size="22.65" fill="#000">0.6</text>
<text transform="translate(581.82 1124.5) scale(0.9479 1)" font-size="22.65" fill="#000">0.8</text>
<text transform="translate(699.88 1124.5) scale(0.9479 1)" font-size="22.65" fill="#000">1.0</text>
<text transform="translate(71.1 1083.52) rotate(-90) scale(0.9479 1)" font-size="22.65" fill="#000">0.0</text>
<text transform="translate(71.1 1015.72) rotate(-90) scale(0.9479 1)" font-size="22.65" fill="#000">0.2</text>
<text transform="translate(71.1 948.27) rotate(-90) scale(0.9479 1)" font-size="22.65" fill="#000">0.4</text>
<text transform="translate(71.1 880.43) rotate(-90) scale(0.9479 1)" font-size="22.65" fill="#000">0.6</text>
<text transform="translate(71.1 812.76) rotate(-90) scale(0.9479 1)" font-size="22.65" fill="#000">0.8</text>
<text transform="translate(71.1 745.52) rotate(-90) scale(0.9479 1)" font-size="22.65" fill="#000">1.0</text>
<text transform="translate(219.24 1154.7) scale(0.9979 1)" font-size="21.47" fill="#000">Nomogram−Predicted Probability of 3−Year OS</text>
<text transform="translate(25.9 1030.44) rotate(-90) scale(1.0005 1)" font-size="21.47" fill="#000">Actual 3−Year DFS (proportion)</text>
<text transform="translate(147.63 757.6) scale(0.9402 1)" font-size="22.3" fill="#1a1a1a">TARGET-3-Years</text>
<text x="-0.27" y="694.8" font-size="29.5" font-weight="bold" fill="#000">B</text>
<line x1="920.3" y1="720.74" x2="920.3" y2="727.74" stroke="#6a6a6a" stroke-width="0.8"/>
<line x1="925.5" y1="720.74" x2="925.5" y2="727.74" stroke="#6a6a6a" stroke-width="0.8"/>
<line x1="942.5" y1="720.74" x2="942.5" y2="727.74" stroke="#6a6a6a" stroke-width="0.8"/>
<line x1="951.4" y1="720.74" x2="951.4" y2="727.74" stroke="#6a6a6a" stroke-width="0.8"/>
<line x1="966.3" y1="720.74" x2="966.3" y2="727.74" stroke="#6a6a6a" stroke-width="0.8"/>
<line x1="990.6" y1="720.74" x2="990.6" y2="727.74" stroke="#6a6a6a" stroke-width="0.8"/>
<line x1="1021.7" y1="720.74" x2="1021.7" y2="727.74" stroke="#6a6a6a" stroke-width="0.8"/>
<line x1="1024.4" y1="720.74" x2="1024.4" y2="727.74" stroke="#6a6a6a" stroke-width="0.8"/>
<line x1="1027.5" y1="720.74" x2="1027.5" y2="727.74" stroke="#6a6a6a" stroke-width="0.8"/>
<line x1="1032.6" y1="720.74" x2="1032.6" y2="727.74" stroke="#6a6a6a" stroke-width="0.8"/>
<line x1="1035.1" y1="720.74" x2="1035.1" y2="727.74" stroke="#6a6a6a" stroke-width="0.8"/>
<line x1="1069.5" y1="720.74" x2="1069.5" y2="727.74" stroke="#6a6a6a" stroke-width="0.8"/>
<line x1="1109.3" y1="720.74" x2="1109.3" y2="727.74" stroke="#6a6a6a" stroke-width="0.8"/>
<line x1="1144.6" y1="720.74" x2="1144.6" y2="727.74" stroke="#6a6a6a" stroke-width="0.8"/>
<line x1="1147.3" y1="720.74" x2="1147.3" y2="727.74" stroke="#6a6a6a" stroke-width="0.8"/>
<line x1="1158.4" y1="720.74" x2="1158.4" y2="727.74" stroke="#6a6a6a" stroke-width="0.8"/>
<line x1="1181.5" y1="720.74" x2="1181.5" y2="727.74" stroke="#6a6a6a" stroke-width="0.8"/>
<line x1="1186.6" y1="720.74" x2="1186.6" y2="727.74" stroke="#6a6a6a" stroke-width="0.8"/>
<line x1="1207.6" y1="720.74" x2="1207.6" y2="727.74" stroke="#6a6a6a" stroke-width="0.8"/>
<line x1="1211.3" y1="720.74" x2="1211.3" y2="727.74" stroke="#6a6a6a" stroke-width="0.8"/>
<line x1="1241.3" y1="720.74" x2="1241.3" y2="727.74" stroke="#6a6a6a" stroke-width="0.8"/>
<line x1="1252.5" y1="720.74" x2="1252.5" y2="727.74" stroke="#6a6a6a" stroke-width="0.8"/>
<line x1="1257.3" y1="720.74" x2="1257.3" y2="727.74" stroke="#6a6a6a" stroke-width="0.8"/>
<line x1="1261" y1="720.74" x2="1261" y2="727.74" stroke="#6a6a6a" stroke-width="0.8"/>
<line x1="1263.5" y1="720.74" x2="1263.5" y2="727.74" stroke="#6a6a6a" stroke-width="0.8"/>
<line x1="1287.4" y1="720.74" x2="1287.4" y2="727.74" stroke="#6a6a6a" stroke-width="0.8"/>
<line x1="1300.4" y1="720.74" x2="1300.4" y2="727.74" stroke="#6a6a6a" stroke-width="0.8"/>
<line x1="1305" y1="720.74" x2="1305" y2="727.74" stroke="#6a6a6a" stroke-width="0.8"/>
<line x1="1312.2" y1="720.74" x2="1312.2" y2="727.74" stroke="#6a6a6a" stroke-width="0.8"/>
<line x1="1313.9" y1="720.74" x2="1313.9" y2="727.74" stroke="#6a6a6a" stroke-width="0.8"/>
<line x1="1320.5" y1="720.74" x2="1320.5" y2="727.74" stroke="#6a6a6a" stroke-width="0.8"/>
<line x1="1330.5" y1="720.74" x2="1330.5" y2="727.74" stroke="#6a6a6a" stroke-width="0.8"/>
<line x1="1349.5" y1="720.74" x2="1349.5" y2="727.74" stroke="#6a6a6a" stroke-width="0.8"/>
<line x1="1360.9" y1="720.74" x2="1360.9" y2="727.74" stroke="#6a6a6a" stroke-width="0.8"/>
<line x1="1363" y1="720.74" x2="1363" y2="727.74" stroke="#6a6a6a" stroke-width="0.8"/>
<line x1="1365.1" y1="720.74" x2="1365.1" y2="727.74" stroke="#6a6a6a" stroke-width="0.8"/>
<line x1="1367.6" y1="720.74" x2="1367.6" y2="727.74" stroke="#6a6a6a" stroke-width="0.8"/>
<line x1="1369.2" y1="720.74" x2="1369.2" y2="727.74" stroke="#6a6a6a" stroke-width="0.8"/>
<line x1="1372.3" y1="720.74" x2="1372.3" y2="727.74" stroke="#6a6a6a" stroke-width="0.8"/>
<line x1="1374.4" y1="720.74" x2="1374.4" y2="727.74" stroke="#6a6a6a" stroke-width="0.8"/>
<line x1="1377.1" y1="720.74" x2="1377.1" y2="727.74" stroke="#6a6a6a" stroke-width="0.8"/>
<line x1="1378.5" y1="720.74" x2="1378.5" y2="727.74" stroke="#6a6a6a" stroke-width="0.8"/>
<line x1="1380" y1="720.74" x2="1380" y2="727.74" stroke="#6a6a6a" stroke-width="0.8"/>
<line x1="1389.9" y1="720.74" x2="1389.9" y2="727.74" stroke="#6a6a6a" stroke-width="0.8"/>
<line x1="1391.6" y1="720.74" x2="1391.6" y2="727.74" stroke="#6a6a6a" stroke-width="0.8"/>
<line x1="1397.2" y1="720.74" x2="1397.2" y2="727.74" stroke="#6a6a6a" stroke-width="0.8"/>
<line x1="1399.3" y1="720.74" x2="1399.3" y2="727.74" stroke="#6a6a6a" stroke-width="0.8"/>
<line x1="1401.3" y1="720.74" x2="1401.3" y2="727.74" stroke="#6a6a6a" stroke-width="0.8"/>
<line x1="1404" y1="720.74" x2="1404" y2="727.74" stroke="#6a6a6a" stroke-width="0.8"/>
<line x1="1406.1" y1="720.74" x2="1406.1" y2="727.74" stroke="#6a6a6a" stroke-width="0.8"/>
<line x1="1407.6" y1="720.74" x2="1407.6" y2="727.74" stroke="#6a6a6a" stroke-width="0.8"/>
<line x1="1409.6" y1="720.74" x2="1409.6" y2="727.74" stroke="#6a6a6a" stroke-width="0.8"/>
<line x1="1411.7" y1="720.74" x2="1411.7" y2="727.74" stroke="#6a6a6a" stroke-width="0.8"/>
<line x1="1413.8" y1="720.74" x2="1413.8" y2="727.74" stroke="#6a6a6a" stroke-width="0.8"/>
<line x1="1415.9" y1="720.74" x2="1415.9" y2="727.74" stroke="#6a6a6a" stroke-width="0.8"/>
<line x1="1417.3" y1="720.74" x2="1417.3" y2="727.74" stroke="#6a6a6a" stroke-width="0.8"/>
<line x1="1422.1" y1="720.74" x2="1422.1" y2="727.74" stroke="#6a6a6a" stroke-width="0.8"/>
<line x1="1424.1" y1="720.74" x2="1424.1" y2="727.74" stroke="#6a6a6a" stroke-width="0.8"/>
<line x1="1426.2" y1="720.74" x2="1426.2" y2="727.74" stroke="#6a6a6a" stroke-width="0.8"/>
<line x1="1428.3" y1="720.74" x2="1428.3" y2="727.74" stroke="#6a6a6a" stroke-width="0.8"/>
<line x1="1430.4" y1="720.74" x2="1430.4" y2="727.74" stroke="#6a6a6a" stroke-width="0.8"/>
<line x1="1434.5" y1="720.74" x2="1434.5" y2="727.74" stroke="#6a6a6a" stroke-width="0.8"/>
<line x1="1438.6" y1="720.74" x2="1438.6" y2="727.74" stroke="#6a6a6a" stroke-width="0.8"/>
<line x1="1440.7" y1="720.74" x2="1440.7" y2="727.74" stroke="#6a6a6a" stroke-width="0.8"/>
<line x1="1443.4" y1="720.74" x2="1443.4" y2="727.74" stroke="#6a6a6a" stroke-width="0.8"/>
<line x1="1445.9" y1="720.74" x2="1445.9" y2="727.74" stroke="#6a6a6a" stroke-width="0.8"/>
<line x1="1455.6" y1="720.74" x2="1455.6" y2="727.74" stroke="#6a6a6a" stroke-width="0.8"/>
<line x1="1457.9" y1="720.74" x2="1457.9" y2="727.74" stroke="#6a6a6a" stroke-width="0.8"/>
<line x1="1460.4" y1="720.74" x2="1460.4" y2="727.74" stroke="#6a6a6a" stroke-width="0.8"/>
<line x1="1462.9" y1="720.74" x2="1462.9" y2="727.74" stroke="#6a6a6a" stroke-width="0.8"/>
<line x1="1465" y1="720.74" x2="1465" y2="727.74" stroke="#6a6a6a" stroke-width="0.8"/>
<line x1="1467.7" y1="720.74" x2="1467.7" y2="727.74" stroke="#6a6a6a" stroke-width="0.8"/>
<line x1="1472.2" y1="720.74" x2="1472.2" y2="727.74" stroke="#6a6a6a" stroke-width="0.8"/>
<line x1="1117.2" y1="1011.3" x2="1117.2" y2="864.7" stroke="#1f6cb3" stroke-width="2.4"/>
<line x1="1112.4" y1="1011.3" x2="1122" y2="1011.3" stroke="#1f6cb3" stroke-width="2.4" stroke-linecap="round"/>
<line x1="1112.4" y1="864.7" x2="1122" y2="864.7" stroke="#1f6cb3" stroke-width="2.4" stroke-linecap="round"/>
<line x1="1368.5" y1="865.1" x2="1368.5" y2="743.8" stroke="#1f6cb3" stroke-width="2.4"/>
<line x1="1363.7" y1="865.1" x2="1373.3" y2="865.1" stroke="#1f6cb3" stroke-width="2.4" stroke-linecap="round"/>
<line x1="1363.7" y1="743.8" x2="1373.3" y2="743.8" stroke="#1f6cb3" stroke-width="2.4" stroke-linecap="round"/>
<line x1="1439.7" y1="844.4" x2="1439.7" y2="734.3" stroke="#1f6cb3" stroke-width="2.4"/>
<line x1="1434.9" y1="844.4" x2="1444.5" y2="844.4" stroke="#1f6cb3" stroke-width="2.4" stroke-linecap="round"/>
<line x1="1434.9" y1="734.3" x2="1444.5" y2="734.3" stroke="#1f6cb3" stroke-width="2.4" stroke-linecap="round"/>
<path d="M1112.6 938.2L1121.8 947.4M1112.6 947.4L1121.8 938.2" stroke="#2b4aa6" stroke-width="1.5" fill="none"/>
<path d="M1363.9 806.9L1373.1 816.1M1363.9 816.1L1373.1 806.9" stroke="#2b4aa6" stroke-width="1.5" fill="none"/>
<path d="M1435.1 807.6L1444.3 816.8M1435.1 816.8L1444.3 807.6" stroke="#2b4aa6" stroke-width="1.5" fill="none"/>
<line x1="899.26" y1="1086.76" x2="1540.34" y2="720.74" stroke="#d4d4d4" stroke-width="1.4"/>
<line x1="1126.68" y1="953.62" x2="1359.02" y2="816.88" stroke="#b5605a" stroke-width="2.6" stroke-linecap="round"/>
<line x1="1379.21" y1="808.79" x2="1428.99" y2="797.11" stroke="#b5605a" stroke-width="2.6" stroke-linecap="round"/>
<circle cx="1117.2" cy="959.2" r="4.2" fill="#b5605a"/>
<circle cx="1368.5" cy="811.3" r="4.2" fill="#b5605a"/>
<circle cx="1439.7" cy="794.6" r="4.2" fill="#b5605a"/>
<line x1="899.26" y1="1086.76" x2="1540.34" y2="720.74" stroke="#1168b8" stroke-width="2.3" stroke-dasharray="2.3 6.96" stroke-dashoffset="-8"/>
<rect x="899.26" y="720.74" width="641.09" height="366.01" fill="none" stroke="#1c1c1c" stroke-width="2.8"/>
<line x1="923" y1="1088.16" x2="923" y2="1096.8" stroke="#222" stroke-width="1.2"/>
<line x1="889.2" y1="1073.2" x2="897.86" y2="1073.2" stroke="#222" stroke-width="1.2"/>
<line x1="1041.72" y1="1088.16" x2="1041.72" y2="1096.8" stroke="#222" stroke-width="1.2"/>
<line x1="889.2" y1="1005.42" x2="897.86" y2="1005.42" stroke="#222" stroke-width="1.2"/>
<line x1="1160.44" y1="1088.16" x2="1160.44" y2="1096.8" stroke="#222" stroke-width="1.2"/>
<line x1="889.2" y1="937.64" x2="897.86" y2="937.64" stroke="#222" stroke-width="1.2"/>
<line x1="1279.16" y1="1088.16" x2="1279.16" y2="1096.8" stroke="#222" stroke-width="1.2"/>
<line x1="889.2" y1="869.86" x2="897.86" y2="869.86" stroke="#222" stroke-width="1.2"/>
<line x1="1397.88" y1="1088.16" x2="1397.88" y2="1096.8" stroke="#222" stroke-width="1.2"/>
<line x1="889.2" y1="802.08" x2="897.86" y2="802.08" stroke="#222" stroke-width="1.2"/>
<line x1="1516.6" y1="1088.16" x2="1516.6" y2="1096.8" stroke="#222" stroke-width="1.2"/>
<line x1="889.2" y1="734.3" x2="897.86" y2="734.3" stroke="#222" stroke-width="1.2"/>
<text transform="translate(911.59 1120.8) scale(1.0124 1)" font-size="22.47" fill="#000">0.0</text>
<text transform="translate(1030.43 1120.8) scale(1.0124 1)" font-size="22.47" fill="#000">0.2</text>
<text transform="translate(1148.92 1120.8) scale(1.0124 1)" font-size="22.47" fill="#000">0.4</text>
<text transform="translate(1267.8 1120.8) scale(1.0124 1)" font-size="22.47" fill="#000">0.6</text>
<text transform="translate(1386.52 1120.8) scale(1.0124 1)" font-size="22.47" fill="#000">0.8</text>
<text transform="translate(1504.77 1120.8) scale(1.0124 1)" font-size="22.47" fill="#000">1.0</text>
<text transform="translate(875.9 1083.91) rotate(-90) scale(0.8908 1)" font-size="22.79" fill="#000">0.0</text>
<text transform="translate(875.9 1016.02) rotate(-90) scale(0.8908 1)" font-size="22.79" fill="#000">0.2</text>
<text transform="translate(875.9 948.45) rotate(-90) scale(0.8908 1)" font-size="22.79" fill="#000">0.4</text>
<text transform="translate(875.9 880.52) rotate(-90) scale(0.8908 1)" font-size="22.79" fill="#000">0.6</text>
<text transform="translate(875.9 812.75) rotate(-90) scale(0.8908 1)" font-size="22.79" fill="#000">0.8</text>
<text transform="translate(875.9 745.39) rotate(-90) scale(0.8908 1)" font-size="22.79" fill="#000">1.0</text>
<text transform="translate(1019.13 1157.8) scale(1.0682 1)" font-size="21.3" fill="#000">Nomogram−Predicted Probability of 5−Year OS</text>
<text transform="translate(835.9 1012.74) rotate(-90) scale(0.9266 1)" font-size="21.8" fill="#000">Actual 5−Year DFS (proportion)</text>
<text transform="translate(941.53 757.6) scale(0.9436 1)" font-size="22.3" fill="#1a1a1a">TARGET-5-Years</text>
<text x="812.79" y="694.9" font-size="29.5" font-weight="bold" fill="#000">C</text>
<line x1="101.4" y1="1251.08" x2="101.4" y2="1256.58" stroke="#6a6a6a" stroke-width="0.8"/>
<line x1="108.2" y1="1251.08" x2="108.2" y2="1256.58" stroke="#6a6a6a" stroke-width="0.8"/>
<line x1="109.3" y1="1251.08" x2="109.3" y2="1256.58" stroke="#6a6a6a" stroke-width="0.8"/>
<line x1="110.4" y1="1251.08" x2="110.4" y2="1256.58" stroke="#6a6a6a" stroke-width="0.8"/>
<line x1="116.3" y1="1251.08" x2="116.3" y2="1256.58" stroke="#6a6a6a" stroke-width="0.8"/>
<line x1="319.6" y1="1251.08" x2="319.6" y2="1256.58" stroke="#6a6a6a" stroke-width="0.8"/>
<line x1="351.3" y1="1251.08" x2="351.3" y2="1256.58" stroke="#6a6a6a" stroke-width="0.8"/>
<line x1="353.1" y1="1251.08" x2="353.1" y2="1256.58" stroke="#6a6a6a" stroke-width="0.8"/>
<line x1="355.3" y1="1251.08" x2="355.3" y2="1256.58" stroke="#6a6a6a" stroke-width="0.8"/>
<line x1="360.8" y1="1251.08" x2="360.8" y2="1256.58" stroke="#6a6a6a" stroke-width="0.8"/>
<line x1="362.3" y1="1251.08" x2="362.3" y2="1256.58" stroke="#6a6a6a" stroke-width="0.8"/>
<line x1="364.1" y1="1251.08" x2="364.1" y2="1256.58" stroke="#6a6a6a" stroke-width="0.8"/>
<line x1="367.4" y1="1251.08" x2="367.4" y2="1256.58" stroke="#6a6a6a" stroke-width="0.8"/>
<line x1="371.1" y1="1251.08" x2="371.1" y2="1256.58" stroke="#6a6a6a" stroke-width="0.8"/>
<line x1="372.9" y1="1251.08" x2="372.9" y2="1256.58" stroke="#6a6a6a" stroke-width="0.8"/>
<line x1="375.1" y1="1251.08" x2="375.1" y2="1256.58" stroke="#6a6a6a" stroke-width="0.8"/>
<line x1="377.3" y1="1251.08" x2="377.3" y2="1256.58" stroke="#6a6a6a" stroke-width="0.8"/>
<line x1="410.6" y1="1251.08" x2="410.6" y2="1256.58" stroke="#6a6a6a" stroke-width="0.8"/>
<line x1="412.8" y1="1251.08" x2="412.8" y2="1256.58" stroke="#6a6a6a" stroke-width="0.8"/>
<line x1="417.2" y1="1251.08" x2="417.2" y2="1256.58" stroke="#6a6a6a" stroke-width="0.8"/>
<line x1="423.6" y1="1251.08" x2="423.6" y2="1256.58" stroke="#6a6a6a" stroke-width="0.8"/>
<line x1="436.3" y1="1251.08" x2="436.3" y2="1256.58" stroke="#6a6a6a" stroke-width="0.8"/>
<line x1="513.9" y1="1251.08" x2="513.9" y2="1256.58" stroke="#6a6a6a" stroke-width="0.8"/>
<line x1="531.5" y1="1251.08" x2="531.5" y2="1256.58" stroke="#6a6a6a" stroke-width="0.8"/>
<line x1="543.1" y1="1251.08" x2="543.1" y2="1256.58" stroke="#6a6a6a" stroke-width="0.8"/>
<line x1="545.3" y1="1251.08" x2="545.3" y2="1256.58" stroke="#6a6a6a" stroke-width="0.8"/>
<line x1="554.2" y1="1251.08" x2="554.2" y2="1256.58" stroke="#6a6a6a" stroke-width="0.8"/>
<line x1="581.7" y1="1251.08" x2="581.7" y2="1256.58" stroke="#6a6a6a" stroke-width="0.8"/>
<line x1="591.6" y1="1251.08" x2="591.6" y2="1256.58" stroke="#6a6a6a" stroke-width="0.8"/>
<line x1="705" y1="1251.08" x2="705" y2="1256.58" stroke="#6a6a6a" stroke-width="0.8"/>
<line x1="706.8" y1="1251.08" x2="706.8" y2="1256.58" stroke="#6a6a6a" stroke-width="0.8"/>
<line x1="708.3" y1="1251.08" x2="708.3" y2="1256.58" stroke="#6a6a6a" stroke-width="0.8"/>
<line x1="710.1" y1="1251.08" x2="710.1" y2="1256.58" stroke="#6a6a6a" stroke-width="0.8"/>
<line x1="711.6" y1="1251.08" x2="711.6" y2="1256.58" stroke="#6a6a6a" stroke-width="0.8"/>
<line x1="713.2" y1="1251.08" x2="713.2" y2="1256.58" stroke="#6a6a6a" stroke-width="0.8"/>
<line x1="714.5" y1="1251.08" x2="714.5" y2="1256.58" stroke="#6a6a6a" stroke-width="0.8"/>
<line x1="290.02" y1="1492.93" x2="498.08" y2="1369.57" stroke="#b5605a" stroke-width="1.3" stroke-linecap="round"/>
<line x1="510.37" y1="1362.88" x2="703.23" y2="1267.02" stroke="#b5605a" stroke-width="1.3" stroke-linecap="round"/>
<circle cx="284" cy="1496.5" r="3" fill="#b5605a"/>
<circle cx="504.1" cy="1366" r="3" fill="#b5605a"/>
<circle cx="709.5" cy="1263.9" r="3" fill="#b5605a"/>
<line x1="284" y1="1543.8" x2="284" y2="1388.6" stroke="#1f6cb3" stroke-width="2.4"/>
<line x1="279.2" y1="1543.8" x2="288.8" y2="1543.8" stroke="#1f6cb3" stroke-width="2.4" stroke-linecap="round"/>
<line x1="279.2" y1="1388.6" x2="288.8" y2="1388.6" stroke="#1f6cb3" stroke-width="2.4" stroke-linecap="round"/>
<line x1="504.1" y1="1429" x2="504.1" y2="1277.1" stroke="#1f6cb3" stroke-width="2.4"/>
<line x1="499.3" y1="1429" x2="508.9" y2="1429" stroke="#1f6cb3" stroke-width="2.4" stroke-linecap="round"/>
<line x1="499.3" y1="1277.1" x2="508.9" y2="1277.1" stroke="#1f6cb3" stroke-width="2.4" stroke-linecap="round"/>
<line x1="704.7" y1="1263.9" x2="714.3" y2="1263.9" stroke="#1f6cb3" stroke-width="2.4" stroke-linecap="round"/>
<line x1="704.7" y1="1263.9" x2="714.3" y2="1263.9" stroke="#1f6cb3" stroke-width="2.4" stroke-linecap="round"/>
<line x1="80.82" y1="1594.62" x2="733.78" y2="1251.08" stroke="#d4d4d4" stroke-width="1.2"/>
<path d="M280.4 1469L287.6 1476.2M280.4 1476.2L287.6 1469" stroke="#2b4aa6" stroke-width="1.5" fill="none"/>
<path d="M500.5 1385.7L507.7 1392.9M500.5 1392.9L507.7 1385.7" stroke="#2b4aa6" stroke-width="1.5" fill="none"/>
<path d="M705.9 1260.3L713.1 1267.5M705.9 1267.5L713.1 1260.3" stroke="#2b4aa6" stroke-width="1.5" fill="none"/>
<rect x="80.82" y="1251.08" width="652.97" height="343.55" fill="none" stroke="#1c1c1c" stroke-width="2.8"/>
<line x1="105" y1="1596.02" x2="105" y2="1602.3" stroke="#222" stroke-width="1.2"/>
<line x1="72.8" y1="1581.9" x2="79.42" y2="1581.9" stroke="#222" stroke-width="1.2"/>
<line x1="225.92" y1="1596.02" x2="225.92" y2="1602.3" stroke="#222" stroke-width="1.2"/>
<line x1="72.8" y1="1518.28" x2="79.42" y2="1518.28" stroke="#222" stroke-width="1.2"/>
<line x1="346.84" y1="1596.02" x2="346.84" y2="1602.3" stroke="#222" stroke-width="1.2"/>
<line x1="72.8" y1="1454.66" x2="79.42" y2="1454.66" stroke="#222" stroke-width="1.2"/>
<line x1="467.76" y1="1596.02" x2="467.76" y2="1602.3" stroke="#222" stroke-width="1.2"/>
<line x1="72.8" y1="1391.04" x2="79.42" y2="1391.04" stroke="#222" stroke-width="1.2"/>
<line x1="588.68" y1="1596.02" x2="588.68" y2="1602.3" stroke="#222" stroke-width="1.2"/>
<line x1="72.8" y1="1327.42" x2="79.42" y2="1327.42" stroke="#222" stroke-width="1.2"/>
<line x1="709.6" y1="1596.02" x2="709.6" y2="1602.3" stroke="#222" stroke-width="1.2"/>
<line x1="72.8" y1="1263.8" x2="79.42" y2="1263.8" stroke="#222" stroke-width="1.2"/>
<text transform="translate(96.19 1621.2) scale(1.0124 1)" font-size="22.47" fill="#000">0.0</text>
<text transform="translate(217.23 1621.2) scale(1.0124 1)" font-size="22.47" fill="#000">0.2</text>
<text transform="translate(337.92 1621.2) scale(1.0124 1)" font-size="22.47" fill="#000">0.4</text>
<text transform="translate(459 1621.2) scale(1.0124 1)" font-size="22.47" fill="#000">0.6</text>
<text transform="translate(579.92 1621.2) scale(1.0124 1)" font-size="22.47" fill="#000">0.8</text>
<text transform="translate(700.37 1621.2) scale(1.0124 1)" font-size="22.47" fill="#000">1.0</text>
<text transform="translate(62.4 1590.01) rotate(-90) scale(0.8908 1)" font-size="22.79" fill="#000">0.0</text>
<text transform="translate(62.4 1526.28) rotate(-90) scale(0.8908 1)" font-size="22.79" fill="#000">0.2</text>
<text transform="translate(62.4 1462.87) rotate(-90) scale(0.8908 1)" font-size="22.79" fill="#000">0.4</text>
<text transform="translate(62.4 1399.1) rotate(-90) scale(0.8908 1)" font-size="22.79" fill="#000">0.6</text>
<text transform="translate(62.4 1335.49) rotate(-90) scale(0.8908 1)" font-size="22.79" fill="#000">0.8</text>
<text transform="translate(62.4 1272.29) rotate(-90) scale(0.8908 1)" font-size="22.79" fill="#000">1.0</text>
<text transform="translate(209.14 1656.5) scale(1.0673 1)" font-size="21.3" fill="#000">Nomogram−Predicted Probability of 3−Year OS</text>
<text transform="translate(31 1508.54) rotate(-90) scale(0.9286 1)" font-size="21.8" fill="#000">Actual 3−Year DFS (proportion)</text>
<text transform="translate(147.72 1289.7) scale(0.9606 1)" font-size="22.3" fill="#1a1a1a">GSE21257-3-Years</text>
<text x="0.13" y="1200.3" font-size="29.5" font-weight="bold" fill="#000">D</text>
<line x1="913.8" y1="1251.61" x2="913.8" y2="1257.11" stroke="#6a6a6a" stroke-width="0.8"/>
<line x1="914.4" y1="1251.61" x2="914.4" y2="1257.11" stroke="#6a6a6a" stroke-width="0.8"/>
<line x1="921.4" y1="1251.61" x2="921.4" y2="1257.11" stroke="#6a6a6a" stroke-width="0.8"/>
<line x1="1059.5" y1="1251.61" x2="1059.5" y2="1257.11" stroke="#6a6a6a" stroke-width="0.8"/>
<line x1="1067.7" y1="1251.61" x2="1067.7" y2="1257.11" stroke="#6a6a6a" stroke-width="0.8"/>
<line x1="1069.2" y1="1251.61" x2="1069.2" y2="1257.11" stroke="#6a6a6a" stroke-width="0.8"/>
<line x1="1071.3" y1="1251.61" x2="1071.3" y2="1257.11" stroke="#6a6a6a" stroke-width="0.8"/>
<line x1="1072.7" y1="1251.61" x2="1072.7" y2="1257.11" stroke="#6a6a6a" stroke-width="0.8"/>
<line x1="1074.4" y1="1251.61" x2="1074.4" y2="1257.11" stroke="#6a6a6a" stroke-width="0.8"/>
<line x1="1076.5" y1="1251.61" x2="1076.5" y2="1257.11" stroke="#6a6a6a" stroke-width="0.8"/>
<line x1="1080.6" y1="1251.61" x2="1080.6" y2="1257.11" stroke="#6a6a6a" stroke-width="0.8"/>
<line x1="1082.3" y1="1251.61" x2="1082.3" y2="1257.11" stroke="#6a6a6a" stroke-width="0.8"/>
<line x1="1086.8" y1="1251.61" x2="1086.8" y2="1257.11" stroke="#6a6a6a" stroke-width="0.8"/>
<line x1="1088.5" y1="1251.61" x2="1088.5" y2="1257.11" stroke="#6a6a6a" stroke-width="0.8"/>
<line x1="1089.9" y1="1251.61" x2="1089.9" y2="1257.11" stroke="#6a6a6a" stroke-width="0.8"/>
<line x1="1243.3" y1="1251.61" x2="1243.3" y2="1257.11" stroke="#6a6a6a" stroke-width="0.8"/>
<line x1="1246.2" y1="1251.61" x2="1246.2" y2="1257.11" stroke="#6a6a6a" stroke-width="0.8"/>
<line x1="1262.7" y1="1251.61" x2="1262.7" y2="1257.11" stroke="#6a6a6a" stroke-width="0.8"/>
<line x1="1268" y1="1251.61" x2="1268" y2="1257.11" stroke="#6a6a6a" stroke-width="0.8"/>
<line x1="1507.6" y1="1251.61" x2="1507.6" y2="1257.11" stroke="#6a6a6a" stroke-width="0.8"/>
<line x1="1509.3" y1="1251.61" x2="1509.3" y2="1257.11" stroke="#6a6a6a" stroke-width="0.8"/>
<line x1="1510.8" y1="1251.61" x2="1510.8" y2="1257.11" stroke="#6a6a6a" stroke-width="0.8"/>
<line x1="1514.6" y1="1251.61" x2="1514.6" y2="1257.11" stroke="#6a6a6a" stroke-width="0.8"/>
<line x1="1515.6" y1="1251.61" x2="1515.6" y2="1257.11" stroke="#6a6a6a" stroke-width="0.8"/>
<line x1="1024.3" y1="1559.9" x2="1024.3" y2="1410.1" stroke="#1f6cb3" stroke-width="2.4"/>
<line x1="1019.5" y1="1559.9" x2="1029.1" y2="1559.9" stroke="#1f6cb3" stroke-width="2.4" stroke-linecap="round"/>
<line x1="1019.5" y1="1410.1" x2="1029.1" y2="1410.1" stroke="#1f6cb3" stroke-width="2.4" stroke-linecap="round"/>
<line x1="1188.8" y1="1519.2" x2="1188.8" y2="1299.7" stroke="#1f6cb3" stroke-width="2.4"/>
<line x1="1184" y1="1519.2" x2="1193.6" y2="1519.2" stroke="#1f6cb3" stroke-width="2.4" stroke-linecap="round"/>
<line x1="1184" y1="1299.7" x2="1193.6" y2="1299.7" stroke="#1f6cb3" stroke-width="2.4" stroke-linecap="round"/>
<line x1="1506.6" y1="1264.5" x2="1516.2" y2="1264.5" stroke="#1f6cb3" stroke-width="2.4" stroke-linecap="round"/>
<line x1="1506.6" y1="1264.5" x2="1516.2" y2="1264.5" stroke="#1f6cb3" stroke-width="2.4" stroke-linecap="round"/>
<path d="M1019.7 1490L1028.9 1499.2M1019.7 1499.2L1028.9 1490" stroke="#2b4aa6" stroke-width="1.5" fill="none"/>
<path d="M1184.2 1469.4L1193.4 1478.6M1184.2 1478.6L1193.4 1469.4" stroke="#2b4aa6" stroke-width="1.5" fill="none"/>
<path d="M1506.8 1259.9L1516 1269.1M1506.8 1269.1L1516 1259.9" stroke="#2b4aa6" stroke-width="1.5" fill="none"/>
<line x1="892.7" y1="1596.89" x2="1535.3" y2="1251.61" stroke="#d4d4d4" stroke-width="1.4"/>
<line x1="1034.39" y1="1515.13" x2="1178.71" y2="1452.67" stroke="#b5605a" stroke-width="2.6" stroke-linecap="round"/>
<line x1="1198.36" y1="1442.85" x2="1501.84" y2="1269.95" stroke="#b5605a" stroke-width="2.6" stroke-linecap="round"/>
<circle cx="1024.3" cy="1519.5" r="4.2" fill="#b5605a"/>
<circle cx="1188.8" cy="1448.3" r="4.2" fill="#b5605a"/>
<circle cx="1511.4" cy="1264.5" r="4.2" fill="#b5605a"/>
<line x1="892.7" y1="1596.89" x2="1535.3" y2="1251.61" stroke="#1168b8" stroke-width="2.3" stroke-dasharray="2.3 6.96" stroke-dashoffset="-8"/>
<rect x="892.7" y="1251.61" width="642.6" height="345.28" fill="none" stroke="#1c1c1c" stroke-width="2.8"/>
<line x1="916.5" y1="1598.29" x2="916.5" y2="1607.5" stroke="#222" stroke-width="1.2"/>
<line x1="881.1" y1="1584.1" x2="891.3" y2="1584.1" stroke="#222" stroke-width="1.2"/>
<line x1="1035.5" y1="1598.29" x2="1035.5" y2="1607.5" stroke="#222" stroke-width="1.2"/>
<line x1="881.1" y1="1520.16" x2="891.3" y2="1520.16" stroke="#222" stroke-width="1.2"/>
<line x1="1154.5" y1="1598.29" x2="1154.5" y2="1607.5" stroke="#222" stroke-width="1.2"/>
<line x1="881.1" y1="1456.22" x2="891.3" y2="1456.22" stroke="#222" stroke-width="1.2"/>
<line x1="1273.5" y1="1598.29" x2="1273.5" y2="1607.5" stroke="#222" stroke-width="1.2"/>
<line x1="881.1" y1="1392.28" x2="891.3" y2="1392.28" stroke="#222" stroke-width="1.2"/>
<line x1="1392.5" y1="1598.29" x2="1392.5" y2="1607.5" stroke="#222" stroke-width="1.2"/>
<line x1="881.1" y1="1328.34" x2="891.3" y2="1328.34" stroke="#222" stroke-width="1.2"/>
<line x1="1511.5" y1="1598.29" x2="1511.5" y2="1607.5" stroke="#222" stroke-width="1.2"/>
<line x1="881.1" y1="1264.4" x2="891.3" y2="1264.4" stroke="#222" stroke-width="1.2"/>
<text transform="translate(903.79 1634.3) scale(1.0124 1)" font-size="22.47" fill="#000">0.0</text>
<text transform="translate(1022.91 1634.3) scale(1.0124 1)" font-size="22.47" fill="#000">0.2</text>
<text transform="translate(1141.68 1634.3) scale(1.0124 1)" font-size="22.47" fill="#000">0.4</text>
<text transform="translate(1260.84 1634.3) scale(1.0124 1)" font-size="22.47" fill="#000">0.6</text>
<text transform="translate(1379.84 1634.3) scale(1.0124 1)" font-size="22.47" fill="#000">0.8</text>
<text transform="translate(1498.37 1634.3) scale(1.0124 1)" font-size="22.47" fill="#000">1.0</text>
<text transform="translate(866.2 1596.21) rotate(-90) scale(0.8908 1)" font-size="22.79" fill="#000">0.0</text>
<text transform="translate(866.2 1532.16) rotate(-90) scale(0.8908 1)" font-size="22.79" fill="#000">0.2</text>
<text transform="translate(866.2 1468.43) rotate(-90) scale(0.8908 1)" font-size="22.79" fill="#000">0.4</text>
<text transform="translate(866.2 1404.34) rotate(-90) scale(0.8908 1)" font-size="22.79" fill="#000">0.6</text>
<text transform="translate(866.2 1340.41) rotate(-90) scale(0.8908 1)" font-size="22.79" fill="#000">0.8</text>
<text transform="translate(866.2 1276.89) rotate(-90) scale(0.8908 1)" font-size="22.79" fill="#000">1.0</text>
<text transform="translate(1017.54 1676) scale(1.0669 1)" font-size="21.3" fill="#000">Nomogram−Predicted Probability of 5−Year OS</text>
<text transform="translate(821.6 1546.14) rotate(-90) scale(0.9286 1)" font-size="21.8" fill="#000">Actual 5−Year DFS (proportion)</text>
<text transform="translate(954.92 1289.7) scale(0.9611 1)" font-size="22.3" fill="#1a1a1a">GSE21257-5-Years</text>
<text x="812.93" y="1199.9" font-size="29.5" font-weight="bold" fill="#000">E</text>
</svg>
</body></html>
